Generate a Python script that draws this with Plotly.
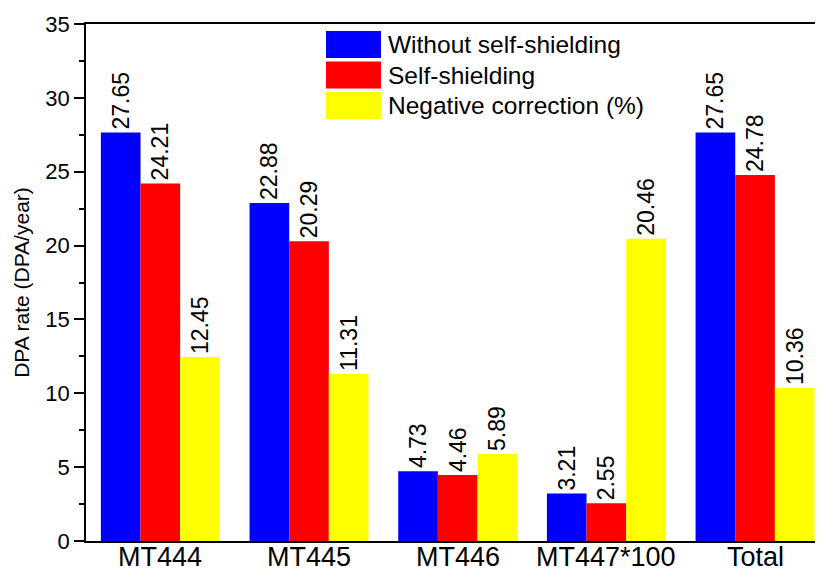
import plotly.graph_objects as go

categories = ["MT444", "MT445", "MT446", "MT447*100", "Total"]
without_ss = [27.65, 22.88, 4.73, 3.21, 27.65]
self_ss = [24.21, 20.29, 4.46, 2.55, 24.78]
neg_corr = [12.45, 11.31, 5.89, 20.46, 10.36]
series_names = ["Without self-shielding", "Self-shielding", "Negative correction (%)"]
colors = ["#0000FF", "#FF0000", "#FFFF00"]
y_ticks = [0, 5, 10, 15, 20, 25, 30, 35]

FONT = "Arial, Liberation Sans, sans-serif"
OFF = 8  # default body margin of the html page
W, H = 823 - OFF, 571 - OFF
ML, MR, MT, MB = 86 - OFF, 0, 24 - OFF, 30
PW, PH = W - ML - MR, H - MT - MB


def px_x(px):
    return (px - OFF - ML) / PW


def px_y(py):
    return (OFF + H - MB - py) / PH


fig = go.Figure()
for name, vals, col in zip(series_names, [without_ss, self_ss, neg_corr], colors):
    fig.add_trace(go.Bar(
        x=categories, y=vals, name=name,
        marker=dict(color=col, line=dict(width=0)),
        text=[f"{v:.2f}" for v in vals],
        textposition="outside", textangle=-90, constraintext="none",
        textfont=dict(family=FONT, size=23, color="black"),
        cliponaxis=False, showlegend=False,
    ))

# invisible trace on overlay axis so right-side ticks are drawn
fig.add_trace(go.Scatter(x=[categories[0]], y=[0], yaxis="y2", mode="markers",
                         marker=dict(opacity=0), showlegend=False, hoverinfo="skip"))

shapes = []
annotations = []
# custom legend (large swatches like the reference)
row_tops = [31, 61.5, 92]
for i, (name, col) in enumerate(zip(series_names, colors)):
    top = row_tops[i]
    shapes.append(dict(type="rect", xref="paper", yref="paper",
                       x0=px_x(326), x1=px_x(381), y0=px_y(top + 27), y1=px_y(top),
                       fillcolor=col, line=dict(width=0)))
    annotations.append(dict(xref="paper", yref="paper", x=px_x(386), y=px_y(top + 13.5),
                            xanchor="left", yanchor="middle", text=name, showarrow=False,
                            font=dict(family=FONT, size=24.5, color="black")))

# category labels below the axis
for c in categories:
    annotations.append(dict(x=c, xref="x", y=0, yref="paper", yanchor="middle",
                            xanchor="center", yshift=-16, text=c, showarrow=False,
                            font=dict(family=FONT, size=27, color="black")))

fig.update_layout(
    width=W, height=H,
    margin=dict(l=ML, r=MR, t=MT, b=MB, autoexpand=False),
    paper_bgcolor="white", plot_bgcolor="white",
    barmode="group", bargap=0.2, bargroupgap=0,
    font=dict(family=FONT, color="black"),
    showlegend=False,
    shapes=shapes, annotations=annotations,
    xaxis=dict(range=[-0.5, 4.457], showline=True, linecolor="black", linewidth=1.5,
               mirror=True, ticks="", showticklabels=False,
               showgrid=False, zeroline=False),
    yaxis=dict(range=[0, 35], tickvals=y_ticks, showline=True, linecolor="black",
               linewidth=1.5, ticks="outside", ticklen=10, tickwidth=1.5,
               tickcolor="black", tickfont=dict(family=FONT, size=22),
               minor=dict(ticks="outside", dtick=2.5, ticklen=5, tickwidth=1.5, tickcolor="black"),
               title=dict(text="DPA rate (DPA/year)", font=dict(family=FONT, size=21), standoff=10),
               showgrid=False, zeroline=False),
    yaxis2=dict(range=[0, 35], overlaying="y", side="right", tickvals=y_ticks,
                showticklabels=False, ticks="inside", ticklen=5, tickwidth=1.5,
                tickcolor="black", showline=False,
                showgrid=False, zeroline=False),
)

fig.write_html("out.html")
